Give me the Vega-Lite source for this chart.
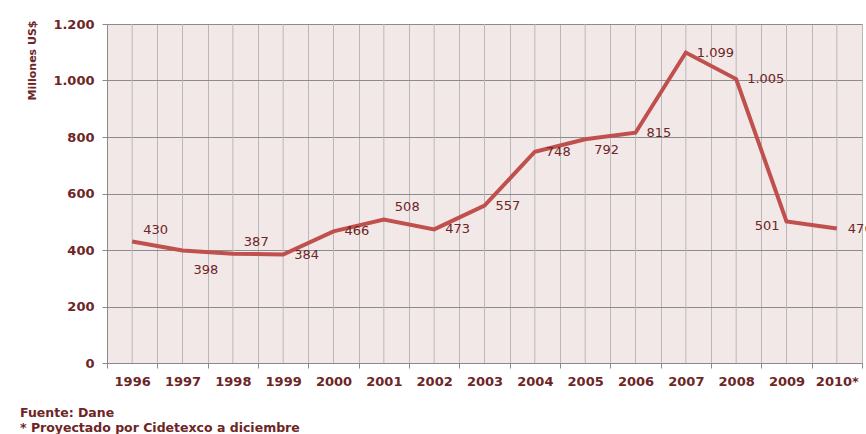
{
  "$schema": "https://vega.github.io/schema/vega-lite/v6.json",
  "width": 755,
  "height": 339,
  "autosize": {"type": "none"},
  "padding": {"left": 107, "top": 24, "right": 4, "bottom": 71},
  "background": "white",
  "config": {
    "locale": {"number": {"decimal": ",", "thousands": ".", "grouping": [3], "currency": ["$", ""]}},
    "view": {"fill": "#f2e8e8", "stroke": null},
    "font": "DejaVu Sans"
  },
  "title": {
    "text": ["Fuente: Dane", "* Proyectado por Cidetexco a diciembre"],
    "orient": "bottom",
    "anchor": "start",
    "frame": "group",
    "dx": -87,
    "offset": 19,
    "fontSize": 12.5,
    "fontWeight": "bold",
    "color": "#6d2525",
    "font": "DejaVu Sans",
    "lineHeight": 15,
    "baseline": "top"
  },
  "data": {
    "values": [
      {"year": "1996", "value": 430},
      {"year": "1997", "value": 398},
      {"year": "1998", "value": 387},
      {"year": "1999", "value": 384},
      {"year": "2000", "value": 466},
      {"year": "2001", "value": 508},
      {"year": "2002", "value": 473},
      {"year": "2003", "value": 557},
      {"year": "2004", "value": 748},
      {"year": "2005", "value": 792},
      {"year": "2006", "value": 815},
      {"year": "2007", "value": 1099},
      {"year": "2008", "value": 1005},
      {"year": "2009", "value": 501},
      {"year": "2010*", "value": 476}
    ]
  },
  "encoding": {
    "x": {
      "field": "year",
      "type": "ordinal",
      "sort": null,
      "bandPosition": 0.5,
      "scale": {
        "type": "band",
        "paddingInner": 0,
        "paddingOuter": 0,
        "domain": ["1996", "1997", "1998", "1999", "2000", "2001", "2002", "2003", "2004", "2005", "2006", "2007", "2008", "2009", "2010*"]
      },
      "axis": {
        "title": null,
        "labelAngle": 0,
        "tickBand": "extent",
        "grid": true,
        "gridColor": "#b8b8b8",
        "gridWidth": 1,
        "domainColor": "#8a8a8a",
        "tickColor": "#8a8a8a",
        "tickSize": 5,
        "labelFont": "DejaVu Sans",
        "labelFontSize": 13,
        "labelFontWeight": "bold",
        "labelColor": "#6d2525",
        "labelPadding": 7
      }
    }
  },
  "layer": [
    {
      "mark": {"type": "rule", "color": "#b8b8b8", "strokeWidth": 1},
      "encoding": {}
    },
    {
      "mark": {"type": "line", "color": "#c0504d", "strokeWidth": 4, "strokeJoin": "miter"},
      "encoding": {
        "y": {
          "field": "value",
          "type": "quantitative",
          "scale": {"domain": [0, 1200]},
          "axis": {
            "title": "Millones US$",
            "values": [0, 200, 400, 600, 800, 1000, 1200],
            "format": ",d",
            "grid": true,
            "gridColor": "#8c8c8c",
            "gridWidth": 1,
            "domainColor": "#8a8a8a",
            "tickColor": "#8a8a8a",
            "tickSize": 5,
            "labelPadding": 8,
            "labelFont": "DejaVu Sans",
            "labelFontSize": 13,
            "labelFontWeight": "bold",
            "labelColor": "#6d2525",
            "titleFont": "DejaVu Sans",
            "titleFontSize": 11,
            "titleFontWeight": "bold",
            "titleColor": "#6d2525",
            "titleAngle": -90,
            "titleX": -75,
            "titleY": -4,
            "titleAlign": "right",
            "titleBaseline": "middle"
          }
        }
      }
    },
    {
      "transform": [{"filter": {"field": "year", "oneOf": ["1999", "2000", "2002", "2003", "2004", "2006", "2007", "2008", "2010*"]}}],
      "mark": {"type": "text", "align": "left", "baseline": "middle", "dx": 11, "dy": 0, "fontSize": 13, "color": "#6d2525"},
      "encoding": {
        "y": {"field": "value", "type": "quantitative"},
        "text": {"field": "value", "type": "quantitative", "format": ",d"}
      }
    },
    {
      "transform": [{"filter": {"field": "year", "oneOf": ["1996", "1998", "2001"]}}],
      "mark": {"type": "text", "align": "left", "baseline": "middle", "dx": 11, "dy": -12, "fontSize": 13, "color": "#6d2525"},
      "encoding": {
        "y": {"field": "value", "type": "quantitative"},
        "text": {"field": "value", "type": "quantitative", "format": ",d"}
      }
    },
    {
      "transform": [{"filter": {"field": "year", "equal": "1997"}}],
      "mark": {"type": "text", "align": "left", "baseline": "middle", "dx": 11, "dy": 19, "fontSize": 13, "color": "#6d2525"},
      "encoding": {
        "y": {"field": "value", "type": "quantitative"},
        "text": {"field": "value", "type": "quantitative", "format": ",d"}
      }
    },
    {
      "transform": [{"filter": {"field": "year", "equal": "2005"}}],
      "mark": {"type": "text", "align": "left", "baseline": "middle", "dx": 9, "dy": 11, "fontSize": 13, "color": "#6d2525"},
      "encoding": {
        "y": {"field": "value", "type": "quantitative"},
        "text": {"field": "value", "type": "quantitative", "format": ",d"}
      }
    },
    {
      "transform": [{"filter": {"field": "year", "equal": "2009"}}],
      "mark": {"type": "text", "align": "right", "baseline": "middle", "dx": -7, "dy": 5, "fontSize": 13, "color": "#6d2525"},
      "encoding": {
        "y": {"field": "value", "type": "quantitative"},
        "text": {"field": "value", "type": "quantitative", "format": ",d"}
      }
    }
  ]
}
